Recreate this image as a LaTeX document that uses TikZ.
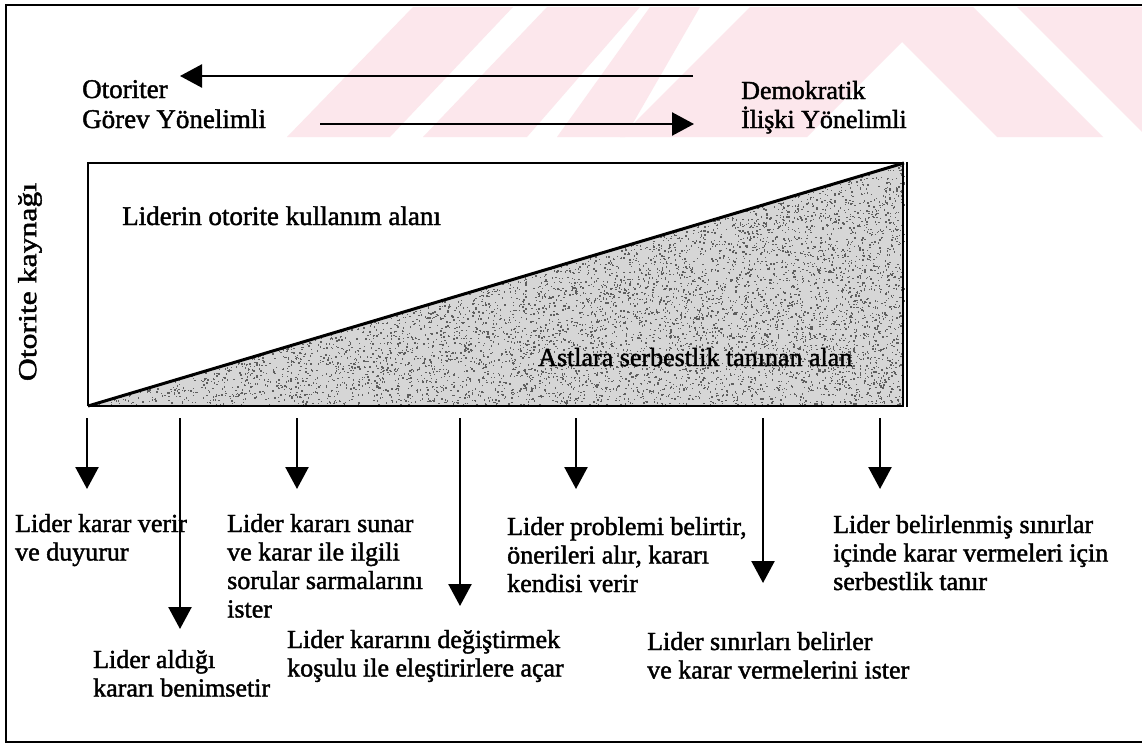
\documentclass[tikz,border=0pt]{standalone}
\usepackage{fontspec}
\setmainfont{Liberation Serif}
\newfontfamily\scanfont{Liberation Serif}[FakeBold=1.6]
\usetikzlibrary{arrows.meta}
\definecolor{wm}{RGB}{252,231,236}
\definecolor{stip}{RGB}{214,214,214}
\definecolor{speck}{RGB}{95,95,95}
\newcommand{\mylines}[1]{\begin{tabular}[t]{@{}l@{}}#1\end{tabular}}
\begin{document}
\begin{tikzpicture}[x=1pt,y=-1pt,
  lbl/.style={anchor=base west,inner sep=0pt,font=\scanfont\fontsize{26}{28.5}\selectfont},
  biglbl/.style={lbl,font=\scanfont\fontsize{27}{29}\selectfont},
  arr/.style={line width=2.4pt,-{Triangle[length=22pt,width=23pt]}},
  frame/.style={line width=2pt},
  boxline/.style={line width=2.5pt}]
\useasboundingbox (0,0) rectangle (1142,744);
\fill[white] (0,0) rectangle (1142,744);
% watermark
\fill[wm] (287,137) -- (390,137) -- (513,7) -- (413,7) -- cycle;
\fill[wm] (423,137) -- (527,137) -- (640,7) -- (547,7) -- cycle;
\fill[wm] (557,137) -- (625,137) -- (700,7) -- (650,7) -- cycle;
\fill[wm] (620,137) -- (750,7) -- (973,7) -- (1103,137) -- (997,137) -- (902,42) -- (807,137) -- cycle;
\fill[wm] (1017,7) -- (1142,7) -- (1142,132) -- cycle;
% outer frame
\draw[frame] (1142,5) -- (6,5) -- (6,742) -- (1142,742);
% top labels and arrows
\node[biglbl] (oto) at (82,98) {Otoriter};
\node[biglbl] (gor) at (82,128) {Görev Yönelimli};
\node[lbl] (dem) at (741,99) {Demokratik};
\node[lbl] (ili) at (741,128) {İlişki Yönelimli};
\coordinate (la) at (693,76);
\coordinate (lb) at (180,76);
\coordinate (ra) at (320,124);
\coordinate (rb) at (694,124);
\draw[arr] (la) -- (lb);
\draw[arr] (ra) -- (rb);
% main box
\coordinate (bl) at (88,406);
\coordinate (tl) at (88,163);
\coordinate (tr) at (904,163);
\coordinate (br) at (904,406);
\fill[stip] (bl) -- (tr) -- (br) -- cycle;
\pgfmathsetseed{4711}
\foreach \i in {1,...,6000}{
  \pgfmathsetmacro{\ua}{rnd}
  \pgfmathsetmacro{\ub}{rnd}
  \pgfmathsetmacro{\ca}{(\ua+\ub>1)?(1-\ua):\ua}
  \pgfmathsetmacro{\cb}{(\ua+\ub>1)?(1-\ub):\ub}
  \fill[speck] ({904-816*\ca},{406-243*\cb}) rectangle +(1.4,1.4);
}
\draw[boxline] (bl) -- (tl) -- (tr);
\draw[boxline] (bl) -- (br);
\draw[line width=3pt] (bl) -- (tr);
\draw[line width=2.5pt] (903,162) -- (903,407);
\draw[line width=2pt] (907,162) -- (907,407);
\node[biglbl] (lider) at (122,225) {Liderin otorite kullanım alanı};
\node[lbl] (astl) at (538,366) {Astlara serbestlik tanınan alan};
\node[inner sep=0pt,rotate=90,font=\scanfont\fontsize{26}{28}\selectfont] (kay) at (30,282) {\scalebox{1.22}[1]{Otorite kaynağı}};
% bottom arrows
\foreach \n/\x/\y in {1/87/489,2/180/629,3/297/489,4/460/606,5/576/489,6/763/583,7/880/489}{
  \coordinate (s\n) at (\x,418);
  \coordinate (e\n) at (\x,\y);
  \draw[arr] (s\n) -- (e\n);
}
% bottom labels
\node[lbl] (t1) at (15,532) {\mylines{Lider karar verir\\ve duyurur}};
\node[lbl] (t2) at (93,668) {\mylines{Lider aldığı\\kararı benimsetir}};
\node[lbl] (t3) at (227,532) {\mylines{Lider kararı sunar\\ve karar ile ilgili\\sorular sarmalarını\\ister}};
\node[lbl] (t4) at (287,648) {\mylines{Lider kararını değiştirmek\\koşulu ile eleştirirlere açar}};
\node[lbl] (t5) at (507,535) {\mylines{Lider problemi belirtir,\\önerileri alır, kararı\\kendisi verir}};
\node[lbl] (t6) at (647,650) {\mylines{Lider sınırları belirler\\ve karar vermelerini ister}};
\node[lbl] (t7) at (833,533) {\mylines{Lider belirlenmiş sınırlar\\içinde karar vermeleri için\\serbestlik tanır}};
\end{tikzpicture}
\end{document}
